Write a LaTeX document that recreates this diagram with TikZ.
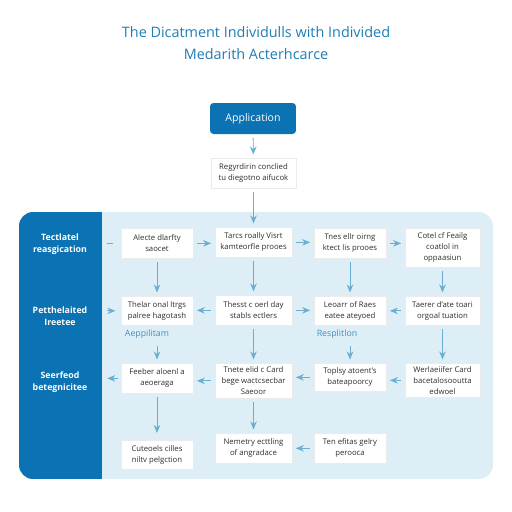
\documentclass[tikz,border=0pt]{standalone}
\usepackage{fontspec}
\setmainfont{Open Sans}
\usetikzlibrary{arrows.meta,positioning,calc}
\definecolor{appblue}{HTML}{0B72B3}
\definecolor{panelblue}{HTML}{DDEEF7}
\definecolor{linkblue}{HTML}{6AAED2}
\definecolor{titleblue}{HTML}{1F7DB5}
\definecolor{textgray}{HTML}{2E2E2E}

\begin{document}
\begin{tikzpicture}[
    x=0.02cm, y=-0.02cm,
    cell/.style={rectangle, draw=black!8, fill=white, align=center, anchor=north, inner sep=1pt, font=\fontsize{4.4}{6.3}\selectfont, text=textgray, minimum height=0.6cm},
    wideA/.style={minimum width=1.44cm},
    wideB/.style={minimum width=1.54cm},
    wideD/.style={minimum width=1.5cm},
    appbox/.style={rectangle, rounded corners=2pt, fill=appblue, text=white, minimum width=1.72cm, minimum height=0.62cm, font=\fontsize{6}{7}\selectfont},
    sidelabel/.style={align=center, text=white, font=\fontsize{5}{6.5}\selectfont\bfseries},
    phase/.style={text=titleblue!85, font=\fontsize{5}{6}\selectfont},
    link/.style={-{Stealth[length=1.6mm, width=1.3mm]}, draw=linkblue, line width=0.5pt, shorten >=2pt, shorten <=2pt}
]
\useasboundingbox (0,0) rectangle (512,512);

% title
\node[text=titleblue, align=center, font=\fontsize{8.2}{12.4}\selectfont] (title) at (256,43)
  {The Dicatment Individulls with Individed\\Medarith Acterhcarce};

% top of the flow
\node[appbox] (app) at (253,118.5) {Application};
\node[cell, minimum width=1.7cm] (req) at (253.5,158) {Regyrdirin conclied\\tu diegotno aifucok};

% panel and side bar
\fill[panelblue, rounded corners=8pt] (19,212) rectangle (493,479);
\begin{scope}
  \clip[rounded corners=8pt] (19,212) rectangle (493,479);
  \fill[appblue] (19,212) rectangle (102,479);
\end{scope}
\coordinate (sideedge) at (102,212);

\node[sidelabel] (lab1) at (60,244) {Tectlatel\\reasgication};
\node[sidelabel] (lab2) at (60,316) {Petthelaited\\Ireetee};
\node[sidelabel] (lab3) at (60,382) {Seerfeod\\betegnicitee};

% row 1
\node[cell, wideA] (c11) at (157,228) {Alecte dlarfty\\saocet};
\node[cell, wideB] (c12) at (253.5,227) {Tarcs roally Visrt\\kamteorfle prooes};
\node[cell, wideA] (c13) at (350,228) {Tnes ellr oirng\\ktect lis prooes};
\node[cell, wideD, minimum height=0.78cm] (c14) at (442.5,228) {Cotel cf Feailg\\coatlol in\\oppaasiun};

% row 2
\node[cell, wideA, minimum height=0.58cm] (c21) at (157,296) {Thelar onal ltrgs\\palree hagotash};
\node[cell, wideB, minimum height=0.6cm] (c22) at (253.5,295) {Thesst c oerl day\\stabls ectlers};
\node[cell, wideA, minimum height=0.58cm] (c23) at (350,296) {Leoarr of Raes\\eatee ateyoed};
\node[cell, wideD, minimum height=0.58cm] (c24) at (442.5,296) {Taerer d'ate toari\\orgoal tuation};

\node[phase] (ph1) at (147,334) {Aeppilitam};
\node[phase] (ph2) at (337,334) {Resplitlon};

% row 3
\node[cell, wideA] (c31) at (157,363) {Feeber aloenl a\\aeoeraga};
\node[cell, wideB, minimum height=0.7cm] (c32) at (253.5,363) {Tnete elid c Card\\bege wactcsecbar\\Saeoor};
\node[cell, wideA, minimum height=0.56cm] (c33) at (350,363) {Toplsy atoent's\\bateapoorcy};
\node[cell, wideD, minimum height=0.68cm] (c34) at (442.5,363) {Werlaeiifer Card\\bacetalosooutta\\edwoel};

% row 4
\node[cell, wideA, minimum height=0.58cm] (c41) at (157,440) {Cuteoels cilles\\niltv pelgction};
\node[cell, wideB, minimum height=0.6cm] (c42) at (253.5,433) {Nemetry ecttling\\of angradace};
\node[cell, wideA, minimum height=0.6cm] (c43) at (350,433) {Ten efitas gelry\\perooca};

% connectors
\draw[link] (app) -- (req);
\draw[link] (req) -- (c12);

\draw[link, -, shorten <=3pt, shorten >=4.5pt] (c11.west -| sideedge) -- (c11.west);
\draw[link] (c11.east) -- (c11.east -| c12.west);
\draw[link] (c12.east) -- (c12.east -| c13.west);
\draw[link] (c13.east) -- (c13.east -| c14.west);

\draw[link] (c11) -- (c21);
\draw[link] (c12) -- (c22);
\draw[link] (c13) -- (c23);
\draw[link] (c14) -- (c24);

\draw[link, shorten <=3pt, shorten >=3pt] (c21.west -| sideedge) -- (c21.west);
\draw[link] (c22.west) -- (c22.west -| c21.east);
\draw[link] (c22.east) -- (c22.east -| c23.west);
\draw[link] (c24.west) -- (c24.west -| c23.east);

\draw[link, shorten <=1pt] (ph1.south -| c31.north) -- (c31.north);
\draw[link] (c22) -- (c32);
\draw[link, shorten <=1pt] (ph2.south -| c33.north) -- (c33.north);
\draw[link] (c24) -- (c34);

\draw[link, shorten <=1.5pt, shorten >=3pt] (c31.west) -- (c31.west -| sideedge);
\draw[link] (c32.west) -- (c32.west -| c31.east);
\draw[link] (c33.west) -- (c33.west -| c32.east);
\draw[link] (c34.west) -- (c34.west -| c33.east);

\draw[link, shorten >=4pt] (c31) -- (c41);
\draw[link] (c32) -- (c42);
\draw[link] (c43.west) -- (c43.west -| c42.east);

\end{tikzpicture}
\end{document}
